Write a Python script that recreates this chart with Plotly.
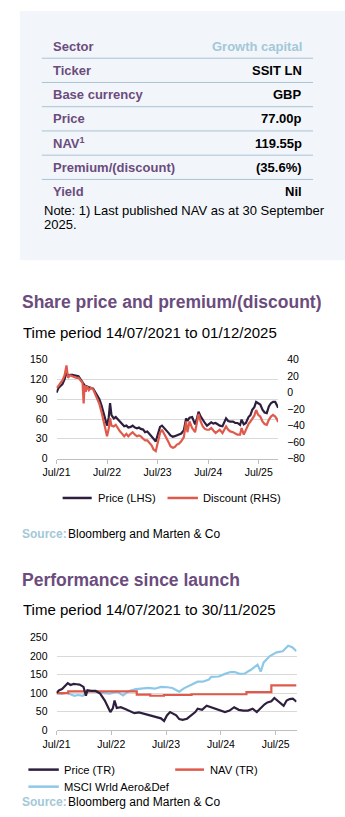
import plotly.graph_objects as go

# ---------------- data ----------------
table_labels = ["Sector", "Ticker", "Base currency", "Price", "NAV<sup>1</sup>",
                "Premium/(discount)", "Yield"]
table_values = ["Growth capital", "SSIT LN", "GBP", "77.00p", "119.55p", "(35.6%)", "Nil"]

tick_dates = ["2021-07-14", "2022-07-14", "2023-07-14", "2024-07-14", "2025-07-14"]
tick_labels = ["Jul/21", "Jul/22", "Jul/23", "Jul/24", "Jul/25"]

# Share price (LHS, pence) and premium/(discount) (RHS, %)
sp_dates = [
    "2021-07-14", "2021-07-28", "2021-08-12", "2021-08-26", "2021-09-10", "2021-09-24",
    "2021-10-05", "2021-10-20", "2021-11-05", "2021-11-20", "2021-12-05", "2021-12-20",
    "2022-01-05", "2022-01-18", "2022-01-26", "2022-02-02", "2022-02-10", "2022-02-20",
    "2022-03-05", "2022-03-20", "2022-04-05", "2022-04-20", "2022-05-05", "2022-05-20",
    "2022-06-05", "2022-06-20", "2022-07-05", "2022-07-14", "2022-07-26", "2022-08-05",
    "2022-08-15", "2022-09-01", "2022-09-15", "2022-10-01", "2022-10-15", "2022-11-01",
    "2022-11-15", "2022-12-01", "2022-12-15", "2023-01-01", "2023-01-15", "2023-02-01",
    "2023-02-15", "2023-03-01", "2023-03-15", "2023-04-01", "2023-04-15", "2023-05-01",
    "2023-05-15", "2023-06-01", "2023-06-15", "2023-07-01", "2023-07-15", "2023-08-01",
    "2023-08-15", "2023-09-01", "2023-09-15", "2023-10-01", "2023-10-15", "2023-11-01",
    "2023-11-15", "2023-12-01", "2023-12-15", "2024-01-01", "2024-01-20", "2024-02-05",
    "2024-02-15", "2024-03-01", "2024-03-20", "2024-04-10", "2024-04-25", "2024-05-05",
    "2024-05-20", "2024-06-05", "2024-06-20", "2024-07-05", "2024-07-20", "2024-08-05",
    "2024-08-20", "2024-09-05", "2024-09-20", "2024-10-05", "2024-10-25", "2024-11-10",
    "2024-11-20", "2024-12-05", "2024-12-20", "2025-01-10", "2025-01-25", "2025-02-10",
    "2025-03-01", "2025-03-12", "2025-03-28", "2025-04-12", "2025-05-01", "2025-05-15",
    "2025-05-28", "2025-06-12", "2025-06-25", "2025-07-10", "2025-07-25", "2025-08-10",
    "2025-08-25", "2025-09-10", "2025-09-25", "2025-10-10", "2025-10-25", "2025-11-10",
    "2025-11-22", "2025-12-01",
]
share_price = [
    100, 107, 110, 113, 120, 131,
    125, 127, 127, 126, 126, 125,
    120, 116, 112, 111, 110, 109,
    108, 107, 106, 101, 97, 90,
    80, 68, 56, 50, 62, 84,
    66, 61, 63, 59, 56, 51,
    49, 50, 47, 48, 50, 47,
    46, 47, 45, 44, 40, 41,
    38, 34, 30, 26, 38, 48,
    50, 46, 44, 39, 35, 33,
    34, 35, 36, 38, 43, 61,
    57, 62, 63, 52, 62, 71,
    64, 58, 54, 50, 52, 55,
    53, 54, 52, 50, 49, 55,
    61, 57, 56, 56, 54, 54,
    51, 59, 52, 54, 63, 66,
    74, 78, 86, 84, 82, 74,
    70, 69, 79, 84, 86, 86,
    82, 77,
]
discount = [
    5.6, 8, 12, 15, 21, 33,
    18, 21, 20, 19, 18, 18,
    14, 12, -13, 9, 1, 8,
    3, 6, 4, -2, -6, -14,
    -24, -35, -46, -53, -44, -31,
    -40, -41, -39, -44, -47, -50,
    -53, -50, -53, -50, -48, -51,
    -53, -52, -53, -56, -58, -58,
    -61, -64, -69, -71, -61, -49,
    -45, -50, -54, -60, -65, -67,
    -66, -63, -62, -59, -54, -35,
    -48, -35, -43, -48, -35, -26,
    -35, -41, -44, -45, -45, -43,
    -46, -49, -47, -45, -49, -44,
    -41, -45, -47, -48, -50, -51,
    -51, -43, -51, -45, -38, -35,
    -31, -28, -21, -27, -29, -35,
    -38, -39, -33, -29, -27, -29,
    -32, -35.6,
]

# Performance since launch (rebased to 100)
tr_dates = [
    "2021-07-14", "2021-08-01", "2021-08-20", "2021-09-10", "2021-09-27", "2021-10-15",
    "2021-11-05", "2021-11-25", "2021-12-15", "2022-01-10", "2022-01-26", "2022-02-05",
    "2022-03-01", "2022-04-01", "2022-05-01", "2022-06-01", "2022-06-20", "2022-07-08",
    "2022-07-25", "2022-08-05", "2022-08-20", "2022-09-15", "2022-10-15", "2022-11-15",
    "2022-12-15", "2023-01-15", "2023-02-15", "2023-03-15", "2023-04-15", "2023-05-15",
    "2023-06-10", "2023-07-01", "2023-07-20", "2023-08-10", "2023-09-01", "2023-09-20",
    "2023-10-10", "2023-11-01", "2023-12-01", "2024-01-01", "2024-01-25", "2024-02-10",
    "2024-03-10", "2024-04-10", "2024-05-10", "2024-06-10", "2024-07-10", "2024-08-10",
    "2024-09-10", "2024-10-10", "2024-11-10", "2024-12-10", "2025-01-10", "2025-02-10",
    "2025-03-10", "2025-04-01", "2025-05-01", "2025-05-20", "2025-06-15", "2025-07-05",
    "2025-07-25", "2025-08-15", "2025-09-05", "2025-09-25", "2025-10-15", "2025-11-05",
    "2025-11-30",
]
price_tr = [
    101, 108, 111, 120, 127, 122,
    125, 124, 123, 117, 93, 108,
    106, 106, 99, 80, 66, 49,
    60, 80, 60, 62, 57, 52,
    46, 48, 45, 42, 38, 36,
    32, 25, 40, 49, 44, 40,
    30, 28, 31, 40, 49, 58,
    55, 66, 62, 56, 52, 49,
    53, 62, 55, 53, 53, 58,
    49, 58, 70, 75, 78, 87,
    80, 72, 66, 80, 84, 85,
    77,
]

nav_dates = ["2021-07-14", "2021-09-30", "2022-12-31", "2023-03-31", "2023-06-30",
             "2023-12-31", "2024-12-31", "2025-06-15", "2025-11-30"]
nav_tr = [100, 105, 96, 93, 95, 97, 103, 121, 121]

msci_dates = [
    "2021-07-14", "2021-08-20", "2021-09-20", "2021-10-10", "2021-11-10", "2021-12-05",
    "2022-01-05", "2022-02-20", "2022-03-20", "2022-04-10", "2022-05-25", "2022-07-05",
    "2022-08-20", "2022-10-01", "2022-11-10", "2022-12-25", "2023-02-05", "2023-03-20",
    "2023-05-01", "2023-06-10", "2023-07-25", "2023-08-25", "2023-09-25", "2023-10-10",
    "2023-11-10", "2024-01-10", "2024-02-10", "2024-03-15", "2024-04-25", "2024-05-10",
    "2024-06-30", "2024-08-10", "2024-09-15", "2024-10-15", "2024-11-15", "2024-12-20",
    "2025-01-30", "2025-03-15", "2025-04-05", "2025-04-25", "2025-06-05", "2025-07-20",
    "2025-08-30", "2025-10-05", "2025-11-01", "2025-11-30",
]
msci = [
    99, 98, 101, 97, 93, 95,
    93, 106, 104, 105, 100, 99,
    104, 94, 106, 111, 113, 114,
    112, 117, 116, 114, 107, 104,
    113, 124, 131, 131, 137, 144,
    145, 152, 157, 157, 152, 153,
    163, 177, 158, 183, 200, 210,
    213, 228, 224, 213,
]

# ---------------- styling ----------------
W, H = 345, 817
FONT = "Liberation Sans, Arial, sans-serif"
PURPLE = "#6b4c7d"
LIGHT_BLUE_TXT = "#a3c8d8"
DARK = "#2f1f3e"
RED = "#e05a4b"
BLUE = "#8ec8e8"
GRID = "#d9d9d9"
AXIS = "#bfbfbf"


def px(x):
    return x / W


def py(y):
    return 1 - y / H


annotations = []
shapes = []


def text(x, y, s, size, color="#000", bold=False, anchor="left"):
    if bold:
        s = "<b>" + s + "</b>"
    annotations.append(dict(
        x=px(x), y=py(y), xref="paper", yref="paper", text=s, showarrow=False,
        xanchor=anchor, yanchor="middle", align=anchor,
        font=dict(family=FONT, size=size, color=color),
    ))


def hline(x0, x1, y, color, width):
    shapes.append(dict(type="line", xref="paper", yref="paper",
                       x0=px(x0), x1=px(x1), y0=py(y), y1=py(y),
                       line=dict(color=color, width=width)))


def source_line(y):
    text(6.5, y, "Source:", 12, LIGHT_BLUE_TXT, bold=True)
    text(54.5, y, "Bloomberg and Marten &amp; Co", 12)


# key facts panel
shapes.append(dict(type="rect", xref="paper", yref="paper", layer="below",
                   x0=px(6), x1=px(345), y0=py(5), y1=py(258),
                   fillcolor="#f2f6fa", line=dict(width=0)))
row0, step = 40.7, 24.6
for i, (lab, val) in enumerate(zip(table_labels, table_values)):
    yc = row0 + i * step
    text(39, yc, lab, 13, PURPLE, bold=True)
    text(302.7, yc, val, 13, LIGHT_BLUE_TXT if i == 0 else "#000", bold=True, anchor="right")
    if i < len(table_labels) - 1:
        hline(29, 311.7, yc + 12.3, "#a9c3d3", 1)
text(29, 207.3, "Note: 1) Last published NAV as at 30 September", 13)
text(29, 221.7, "2025.", 13)

# section 1 headings
text(6.5, 300.7, "Share price and premium/(discount)", 17.5, PURPLE, bold=True)
text(7, 331.7, "Time period 14/07/2021 to 01/12/2025", 15)

# section 1 legend
hline(50.7, 81, 499.3, DARK, 2.5)
text(85, 499.3, "Price (LHS)", 11.2)
hline(160, 191.7, 499.3, RED, 2.5)
text(195, 499.3, "Discount (RHS)", 11.2)
source_line(535.5)

# section 2 headings
text(6.5, 582.7, "Performance since launch", 17.5, PURPLE, bold=True)
text(7, 612.7, "Time period 14/07/2021 to 30/11/2025", 15)

# section 2 legend
hline(15, 46.7, 775, DARK, 2.5)
text(50, 775, "Price (TR)", 11.2)
hline(168, 198, 775, RED, 2.5)
text(201.7, 775, "NAV (TR)", 11.2)
hline(15, 46.7, 792.3, BLUE, 2.5)
text(50, 792.3, "MSCI Wrld Aero&amp;Def", 11.2)
source_line(808.3)

fig = go.Figure()
fig.add_trace(go.Scatter(x=sp_dates, y=share_price, mode="lines", name="Price (LHS)",
                         line=dict(color=DARK, width=2.2), xaxis="x", yaxis="y"))
fig.add_trace(go.Scatter(x=sp_dates, y=discount, mode="lines", name="Discount (RHS)",
                         line=dict(color=RED, width=2.2), xaxis="x", yaxis="y2"))
fig.add_trace(go.Scatter(x=msci_dates, y=msci, mode="lines", name="MSCI Wrld Aero&Def",
                         line=dict(color=BLUE, width=2.2), xaxis="x2", yaxis="y3"))
fig.add_trace(go.Scatter(x=nav_dates, y=nav_tr, mode="lines", name="NAV (TR)",
                         line=dict(color=RED, width=2.2, shape="hv"), xaxis="x2", yaxis="y3"))
fig.add_trace(go.Scatter(x=tr_dates, y=price_tr, mode="lines", name="Price (TR)",
                         line=dict(color=DARK, width=2.2), xaxis="x2", yaxis="y3"))

tickfont = dict(family=FONT, size=10.5, color="#000")
xcommon = dict(type="date", tickvals=tick_dates, ticktext=tick_labels, ticks="outside",
               ticklen=4, tickcolor=AXIS, showline=True, linecolor=AXIS, linewidth=1,
               showgrid=False, zeroline=False, tickfont=tickfont, fixedrange=True)
ycommon = dict(showgrid=True, gridcolor=GRID, gridwidth=1, zeroline=False, showline=False,
               ticks="", tickfont=tickfont, ticklabelstandoff=8)

fig.update_layout(
    width=W, height=H, margin=dict(l=0, r=0, t=0, b=0),
    paper_bgcolor="white", plot_bgcolor="white", showlegend=False,
    xaxis=dict(xcommon, domain=[px(44.3), px(275.3)], range=["2021-07-14", "2025-12-01"], anchor="y"),
    yaxis=dict(ycommon, domain=[py(459.3), py(359)], range=[0, 150], dtick=30, anchor="x"),
    yaxis2=dict(ycommon, overlaying="y", side="right", range=[-80, 40], dtick=20,
                showgrid=False, anchor="x"),
    xaxis2=dict(xcommon, domain=[px(44.3), px(294.5)], range=["2021-07-14", "2025-11-30"], anchor="y3"),
    yaxis3=dict(ycommon, domain=[py(735), py(641)], range=[0, 250], dtick=50, anchor="x2"),
    annotations=annotations, shapes=shapes,
)

fig.write_html("out.html", post_script="document.body.style.margin='0';")
